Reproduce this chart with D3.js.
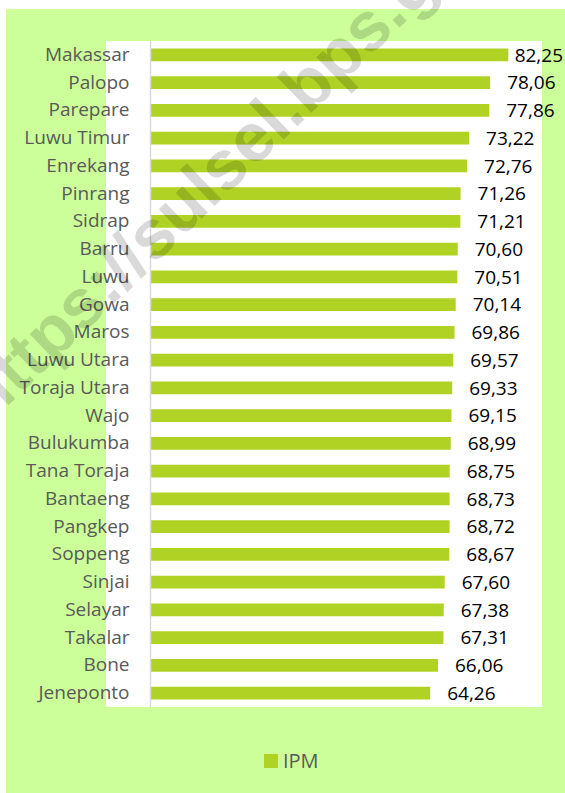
<!DOCTYPE html>
<html>
<head>
<meta charset="utf-8">
<script src="https://cdn.jsdelivr.net/npm/d3@7"></script>
<style>
  body { margin: 0; background: #fff; }
  svg { display: block; }
</style>
</head>
<body>
<script>
// IPM per kabupaten/kota
var regions = ['Makassar', 'Palopo', 'Parepare', 'Luwu Timur', 'Enrekang', 'Pinrang',
               'Sidrap', 'Barru', 'Luwu', 'Gowa', 'Maros', 'Luwu Utara', 'Toraja Utara',
               'Wajo', 'Bulukumba', 'Tana Toraja', 'Bantaeng', 'Pangkep', 'Soppeng',
               'Sinjai', 'Selayar', 'Takalar', 'Bone', 'Jeneponto'];
var ipm = [82.25, 78.06, 77.86, 73.22, 72.76, 71.26, 71.21, 70.60, 70.51, 70.14,
           69.86, 69.57, 69.33, 69.15, 68.99, 68.75, 68.73, 68.72, 68.67, 67.60,
           67.38, 67.31, 66.06, 64.26];
var seriesName = 'IPM';

var w = 565;
var h = 793;
var barColor = '#b0d225';
var font = '"Open Sans", sans-serif';

var svg = d3.select('body')
    .append('svg')
    .attr('width', w)
    .attr('height', h);

// chart background
svg.append('rect')
    .attr('x', 6).attr('y', 9)
    .attr('width', w - 6).attr('height', h - 9)
    .attr('fill', '#ccff99');

// plot area
svg.append('rect')
    .attr('x', 106).attr('y', 41)
    .attr('width', 436).attr('height', 666)
    .attr('fill', '#ffffff');

var xScale = d3.scaleLinear()
    .domain([0, 90])
    .range([151, 542]);

var yScale = d3.scaleBand()
    .domain(regions)
    .range([41, 707])
    .paddingInner(0.54)
    .paddingOuter(0.27);

var data = regions.map((r, i) => ({ name: r, value: ipm[i] }));

svg.selectAll('rect.bar')
    .data(data)
    .enter()
    .append('rect')
    .attr('class', 'bar')
    .attr('x', xScale(0))
    .attr('y', d => yScale(d.name))
    .attr('width', d => xScale(d.value) - xScale(0))
    .attr('height', yScale.bandwidth())
    .attr('fill', barColor);

// category axis
var yAxis = svg.append('g')
    .attr('transform', 'translate(150.5,0)')
    .call(d3.axisLeft(yScale).tickSize(0).tickPadding(21));
yAxis.select('.domain')
    .attr('d', 'M0,41V707')
    .attr('stroke', '#d9d9d9')
    .attr('stroke-width', 1.5);
yAxis.selectAll('text')
    .attr('font-family', font)
    .attr('font-size', '19px')
    .attr('fill', '#595959');

// value labels
svg.selectAll('text.val')
    .data(data)
    .enter()
    .append('text')
    .attr('class', 'val')
    .text(d => d3.format('.2f')(d.value).replace('.', ','))
    .attr('y', d => yScale(d.name) + yScale.bandwidth() / 2)
    .attr('dy', '0.35em')
    .attr('font-family', font)
    .attr('font-size', '19px')
    .attr('fill', '#000')
    .attr('x', function(d) {
        var tw = this.getComputedTextLength();
        return Math.min(xScale(d.value) + 17, 563 - tw);
    });

// legend
svg.append('rect')
    .attr('x', 264).attr('y', 754)
    .attr('width', 14).attr('height', 14)
    .attr('fill', barColor);
svg.append('text')
    .attr('x', 283).attr('y', 761)
    .attr('dy', '0.35em')
    .text(seriesName)
    .attr('font-family', font)
    .attr('font-size', '20px')
    .attr('fill', '#595959');

// watermark
svg.append('text')
    .text('https://sulsel.bps.go.id')
    .attr('transform', 'translate(-12,425) rotate(-44)')
    .attr('font-family', '"Liberation Sans", Arial, sans-serif')
    .attr('font-weight', 'bold')
    .attr('font-size', '69px')
    .attr('fill', '#000')
    .attr('fill-opacity', 0.15);
</script>
</body>
</html>
